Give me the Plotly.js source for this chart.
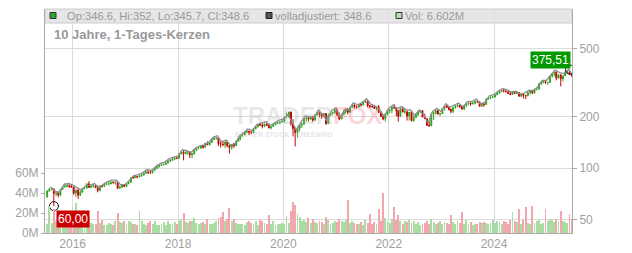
<!DOCTYPE html>
<html><head><meta charset="utf-8">
<script src="https://cdn.plot.ly/plotly-3.0.1.min.js"></script>
<style>html,body{margin:0;padding:0;background:#fff}#chart{width:632px;height:253px}</style>
</head><body><div id="chart"></div>
<script>
// ---- data: semi-monthly candles (1st half / 2nd half of each month), Jul 2015 .. Jun 2025 ----
const firstYear = 2015, firstMonth = 7, periods = 240;
const open = [
 68.0,73.5,75.3,75.6,71.3,71.5,69.7,75.2,77.6,78.1,79.0,78.5,
 77.5,71.5,74.5,69.5,72.4,76.0,76.5,80.9,77.2,78.3,79.0,77.0,74.2,78.8,78.0,80.4,80.9,81.0,82.7,82.0,82.5,76.5,77.3,79.9,
 78.0,81.3,82.7,88.0,87.9,89.3,88.9,89.7,91.2,93.8,95.2,93.9,93.8,97.1,99.6,102.0,103.5,104.8,105.2,107.4,110.0,111.1,112.6,114.5,
 114.0,120.9,124.2,121.5,122.9,123.9,119.6,121.1,126.9,130.2,130.7,134.5,132.5,139.6,136.7,141.3,146.9,149.7,150.1,138.5,137.8,137.4,141.7,135.1,
 131.9,137.5,135.0,143.3,148.1,155.8,156.2,161.8,164.4,161.5,161.3,169.5,173.5,180.3,178.0,175.5,180.8,177.5,172.0,174.9,178.9,183.9,184.5,185.5,
 187.9,198.2,199.0,212.2,181.8,170.5,161.1,170.5,178.7,180.3,195.2,195.6,193.2,199.6,190.4,204.5,212.0,204.7,200.0,207.8,181.7,203.0,210.4,211.1,
 218.7,203.5,193.2,205.5,212.4,221.4,211.7,226.8,233.6,228.9,227.3,234.7,233.8,243.5,246.4,231.0,229.0,227.5,222.8,228.3,211.8,200.0,193.8,206.5,
 216.7,217.4,226.2,224.5,216.1,200.3,221.8,212.7,213.1,201.4,212.2,188.9,196.9,204.5,212.1,216.5,198.7,194.2,177.7,176.3,207.2,209.7,217.0,206.7,
 207.8,222.8,230.2,226.2,219.9,214.6,225.5,230.9,232.7,228.0,221.0,231.8,237.5,239.6,237.7,239.6,245.7,243.5,230.0,236.4,235.1,252.7,256.7,258.9,
 260.4,267.6,273.3,281.1,282.6,281.1,279.1,272.1,268.6,279.5,272.5,275.0,262.5,271.0,265.7,264.5,276.4,282.6,275.0,288.1,289.9,309.7,315.0,320.0,
 316.0,316.1,341.8,356.2,362.7,335.3,350.5,331.6,345.5,362.6,365.2,351.8
];
const high = [
 74.2,76.9,77.5,76.0,72.3,73.3,75.4,78.4,81.7,80.5,80.6,79.9,
 77.6,75.0,75.2,73.8,76.5,77.5,81.4,83.9,79.3,80.8,80.5,79.3,79.1,79.8,80.9,81.5,83.0,83.5,83.8,83.9,83.0,79.0,80.5,80.4,
 81.8,83.3,88.5,89.3,90.2,89.9,91.4,92.5,94.1,95.3,96.5,96.8,97.5,100.6,102.5,103.8,105.2,106.2,107.7,111.7,112.2,114.3,115.4,115.7,
 121.5,126.9,126.9,126.4,126.4,125.4,122.7,128.2,131.2,133.3,136.1,136.3,140.0,143.3,142.4,147.6,150.6,151.6,151.6,142.5,144.5,142.8,144.8,136.2,
 138.3,140.3,143.6,148.3,156.2,158.5,162.5,166.8,165.0,166.3,170.8,176.5,181.2,184.1,182.6,181.4,187.0,182.4,175.6,180.9,184.3,185.7,186.6,189.8,
 198.5,210.4,213.4,214.2,193.0,172.6,175.0,180.3,183.0,196.0,202.8,200.0,200.2,201.1,206.9,214.2,217.4,209.3,209.8,209.6,207.6,212.1,213.8,220.4,
 219.5,210.6,206.5,219.3,224.8,223.4,228.1,236.9,235.8,231.6,236.5,237.8,244.6,252.7,247.4,234.0,235.8,233.9,229.1,233.6,212.9,205.3,207.2,219.5,
 222.0,229.2,235.9,227.0,218.5,225.3,226.4,221.0,217.3,212.6,217.7,203.1,208.5,214.4,217.5,217.3,207.7,196.5,188.5,208.2,213.6,217.6,218.3,210.2,
 224.3,232.0,234.3,227.8,222.7,226.2,231.0,235.6,234.3,233.6,232.5,238.3,240.9,244.7,244.5,246.7,250.1,244.3,238.6,240.9,255.6,257.1,261.3,263.3,
 269.5,279.2,285.8,286.1,290.9,284.6,281.2,280.2,281.1,282.4,280.8,278.1,272.8,274.0,266.3,277.1,283.4,286.0,290.7,294.1,314.2,316.6,321.6,321.4,
 318.3,344.6,359.3,366.5,367.0,350.5,352.0,347.2,366.1,367.9,375.5,356.9
];
const low = [
 67.2,72.8,74.3,60.0,68.6,67.5,68.6,74.5,77.0,77.5,76.5,76.6,
 69.8,67.9,66.1,69.0,72.0,75.3,75.8,76.9,76.4,77.0,76.3,72.2,73.3,77.2,77.9,79.8,79.4,80.6,81.6,80.0,75.2,75.5,76.8,77.8,
 77.9,80.4,82.3,86.4,87.5,87.1,88.2,89.3,90.7,92.5,92.6,93.2,93.4,96.8,99.3,100.6,102.9,103.8,104.9,106.4,108.5,110.6,111.2,113.4,
 113.9,120.5,111.0,120.2,119.8,114.5,114.2,120.3,125.7,128.8,130.1,129.9,131.6,136.3,135.6,141.0,145.7,146.8,134.6,131.8,134.1,131.1,132.5,121.6,
 127.9,131.5,134.7,142.7,145.3,152.3,155.5,160.3,155.5,157.8,159.5,168.8,173.3,176.7,170.6,173.3,176.3,170.4,168.3,173.5,178.5,180.3,180.2,185.1,
 184.6,196.8,198.8,176.6,153.5,133.9,150.6,163.6,171.5,180.1,186.5,187.6,190.4,186.0,189.5,203.0,197.8,194.0,198.9,179.2,180.8,201.7,203.9,207.0,
 202.6,190.1,193.0,204.5,208.3,205.8,211.0,225.4,222.5,222.5,225.3,228.6,232.6,240.0,226.2,223.5,226.1,221.5,217.5,209.0,199.5,190.1,186.7,202.9,
 208.3,208.8,222.0,200.9,186.7,199.6,211.3,206.5,189.5,189.4,187.5,186.4,196.2,201.5,209.6,198.2,193.6,175.9,174.6,176.8,190.8,205.0,205.2,200.8,
 206.7,216.3,224.5,216.9,208.8,208.7,222.4,226.6,224.5,219.6,218.5,226.9,232.8,231.3,234.4,235.4,240.8,227.7,227.8,227.9,233.7,251.2,252.6,257.1,
 257.9,266.4,272.1,277.4,276.5,277.6,271.1,266.5,267.7,271.5,271.3,262.0,260.4,254.8,252.7,262.0,268.5,270.0,271.8,283.8,285.6,305.8,312.4,310.0,
 304.9,315.8,338.6,343.8,325.0,333.5,299.9,320.4,344.1,355.2,350.2,340.8
];
const close = [
 73.5,75.3,75.6,71.3,71.5,69.7,75.2,77.6,78.1,79.0,78.5,77.5,
 71.5,74.5,69.5,72.4,76.0,76.5,80.9,77.2,78.3,79.0,77.0,74.2,78.8,78.0,80.4,80.9,81.0,82.7,82.0,82.5,76.5,77.3,79.9,78.0,
 81.3,82.7,88.0,87.9,89.3,88.9,89.7,91.2,93.8,95.2,93.9,93.8,97.1,99.6,102.0,103.5,104.8,105.2,107.4,110.0,111.1,112.6,114.5,114.0,
 120.9,124.2,121.5,122.9,123.9,119.6,121.1,126.9,130.2,130.7,134.5,132.5,139.6,136.7,141.3,146.9,149.7,150.1,138.5,137.8,137.4,141.7,135.1,131.9,
 137.5,135.0,143.3,148.1,155.8,156.2,161.8,164.4,161.5,161.3,169.5,173.5,180.3,178.0,175.5,180.8,177.5,172.0,174.9,178.9,183.9,184.5,185.5,187.9,
 198.2,199.0,212.2,181.8,170.5,161.1,170.5,178.7,180.3,195.2,195.6,193.2,199.6,190.4,204.5,212.0,204.7,200.0,207.8,181.7,203.0,210.4,211.1,218.7,
 203.5,193.2,205.5,212.4,221.4,211.7,226.8,233.6,228.9,227.3,234.7,233.8,243.5,246.4,231.0,229.0,227.5,222.8,228.3,211.8,200.0,193.8,206.5,216.7,
 217.4,226.2,224.5,216.1,200.3,221.8,212.7,213.1,201.4,212.2,188.9,196.9,204.5,212.1,216.5,198.7,194.2,177.7,176.3,207.2,209.7,217.0,206.7,207.8,
 222.8,230.2,226.2,219.9,214.6,225.5,230.9,232.7,228.0,221.0,231.8,237.5,239.6,237.7,239.6,245.7,243.5,230.0,236.4,235.1,252.7,256.7,258.9,260.4,
 267.6,273.3,281.1,282.6,281.1,279.1,272.1,268.6,279.5,272.5,275.0,262.5,271.0,265.7,264.5,276.4,282.6,275.0,288.1,289.9,309.7,315.0,320.0,316.0,
 316.1,341.8,356.2,362.7,335.3,350.5,331.6,345.5,362.6,365.2,351.8,348.6
];
// volume per half-month, millions
const volumeM = [
 9,27,10,24,12,12,10,14,11,9,15,11,
 14,30,15,11,10,9,11,16,10,9,9,22,10,13,8,8,10,9,8,12,20,11,10,12,
 9,12,11,9,9,8,22,12,9,8,10,12,9,12,8,8,9,11,8,12,9,9,11,9,
 12,14,20,11,10,12,12,15,10,9,10,11,9,14,9,9,10,12,15,16,21,12,14,25,
 12,14,10,9,9,9,8,11,12,10,9,12,8,13,12,10,9,18,9,12,8,9,9,10,
 9,17,10,22,31,28,19,16,12,13,11,15,10,14,11,10,12,11,9,16,13,9,10,12,
 11,14,12,11,13,33,10,12,10,9,9,11,8,13,10,19,9,11,9,24,12,40,15,11,
 10,14,26,13,18,12,9,12,11,13,10,12,9,11,8,9,10,12,9,14,11,9,10,12,
 9,11,10,9,18,11,9,12,10,21,9,13,9,11,8,9,9,11,10,11,10,9,10,13,
 10,12,11,9,12,11,9,13,21,12,11,24,9,13,26,10,9,27,10,12,13,9,10,24,
 12,14,13,11,14,12,22,12,11,10,19,14
];
// fully adjusted close, month ends Jul 2015 .. Jun 2025
const adjusted = [
 77.6,73.4,71.7,79.9,81.4,79.9,
 76.7,74.6,78.8,79.5,81.4,76.4,80.4,83.3,85.2,85.0,79.6,80.3,
 85.2,90.5,91.6,93.9,98.1,96.6,102.6,106.6,108.4,113.3,116.0,117.4,
 127.9,126.6,123.2,130.7,134.6,136.5,140.8,151.3,154.6,141.9,146.0,135.9,
 139.1,152.5,160.9,169.3,166.1,178.7,183.3,186.2,177.2,184.3,190.0,193.5,
 205.0,187.3,165.9,184.1,201.1,199.0,196.1,218.4,206.0,187.2,216.7,225.3,
 199.0,218.8,218.1,240.6,234.1,240.8,253.8,235.9,229.5,218.2,199.6,223.2,
 233.0,222.6,228.5,219.5,218.6,202.8,218.5,204.7,183.0,213.4,223.5,214.0,
 237.1,226.5,232.3,239.7,227.6,244.6,244.8,253.1,236.9,242.2,264.4,268.2,
 281.5,291.1,287.5,276.7,280.7,270.4,273.7,284.7,283.3,298.6,324.5,325.5,
 352.1,373.6,361.0,355.9,376.2,359.1
];
const extremeDates = ['2015-08-24','2025-06-11'];
const extremeValues = [60.00, 375.51];
const extremeLabels = ['60,00','375,51'];
const yearTicks = ['2016','2018','2020','2022','2024'];
const priceTicks = [50,100,200,500];
const volTicks = [0,20,40,60];
const headerOHLC = 'Op:346.6, Hi:352, Lo:345.7, Cl:348.6';
const headerAdj = 'volladjustiert: 348.6';
const headerVol = 'Vol: 6.602M';
const subtitle = '10 Jahre, 1-Tages-Kerzen';

// ---- dates ----
const pad = n => String(n).padStart(2,'0');
const dates = [];
for (let i = 0; i < periods; i++) {
  const m0 = firstMonth - 1 + Math.floor(i/2);
  const y = firstYear + Math.floor(m0/12), m = m0 % 12 + 1;
  dates.push(`${y}-${pad(m)}-${i%2===0?'08':'23'}`);
}
const monthEnds = [];
for (let i = 0; i < adjusted.length; i++) {
  const m0 = firstMonth - 1 + i;
  const y = firstYear + Math.floor(m0/12), m = m0 % 12 + 1;
  const last = (i === adjusted.length-1) ? 20 : new Date(y, m, 0).getDate();
  monthEnds.push(`${y}-${pad(m)}-${pad(last)}`);
}

// ---- geometry helpers (pixel -> paper) ----
const L = 45, R = 572, T = 9, B = 233;
const px = x => (x - L) / (R - L);
const py = y => (B - y) / (B - T);

const volColors = close.map((c,i) => c >= open[i] ? '#a8dca2' : '#f2a6ad');

const traces = [
  { type:'bar', x:dates, y:volumeM.map(v => v*1e6), yaxis:'y2',
    marker:{color:volColors, line:{width:0}}, hoverinfo:'skip' },
  { type:'scatter', mode:'lines', x:monthEnds, y:adjusted,
    line:{color:'#8c8c8c', width:1.3}, hoverinfo:'skip' },
  { type:'candlestick', x:dates, open:open, high:high, low:low, close:close,
    increasing:{line:{color:'#33a322', width:1}, fillcolor:'#33a322'},
    decreasing:{line:{color:'#c80000', width:1}, fillcolor:'#c80000'},
    whiskerwidth:0, hoverinfo:'skip' },
  { type:'scatter', mode:'markers', x:extremeDates, y:extremeValues,
    marker:{symbol:'circle-open', size:9, color:'#111', line:{width:1}}, hoverinfo:'skip' }
];

const fontFam = '"Liberation Sans", Arial, sans-serif';
const annotations = [
  // watermark
  { xref:'paper', yref:'paper', x:px(307), y:py(115.5), xanchor:'center', yanchor:'middle', showarrow:false,
    text:'<b><span style="color:rgba(175,175,175,0.28)">TRADER</span><span style="color:rgba(240,110,120,0.28)">FOX</span></b>',
    font:{family:fontFam, size:24} },
  { xref:'paper', yref:'paper', x:px(284), y:py(134), xanchor:'center', yanchor:'middle', showarrow:false,
    text:'<b>BETTER STOCK SCREENING</b>', font:{family:fontFam, size:7, color:'rgba(175,175,175,0.35)'} },
  // header
  { xref:'paper', yref:'paper', x:px(65), y:py(16), xanchor:'left', yanchor:'middle', showarrow:false,
    text:headerOHLC, font:{family:fontFam, size:11.2, color:'#999'} },
  { xref:'paper', yref:'paper', x:px(272.5), y:py(16), xanchor:'left', yanchor:'middle', showarrow:false,
    text:headerAdj, font:{family:fontFam, size:11.2, color:'#999'} },
  { xref:'paper', yref:'paper', x:px(402.5), y:py(16), xanchor:'left', yanchor:'middle', showarrow:false,
    text:headerVol, font:{family:fontFam, size:11.2, color:'#999'} },
  // subtitle
  { xref:'paper', yref:'paper', x:px(51.5), y:py(34), xanchor:'left', yanchor:'middle', showarrow:false,
    text:'<b>'+subtitle+'</b>', font:{family:fontFam, size:13, color:'#999'} },
  // extreme labels
  { x:extremeDates[1], y:Math.log10(extremeValues[1]), xref:'x', yref:'y', showarrow:false,
    xanchor:'right', yanchor:'bottom', xshift:1, yshift:1,
    text:extremeLabels[1], bgcolor:'#009900', borderpad:1, font:{family:fontFam, size:12, color:'#fff'} },
  { x:extremeDates[0], y:Math.log10(extremeValues[0]), xref:'x', yref:'y', showarrow:false,
    xanchor:'left', yanchor:'top', xshift:2, yshift:-4,
    text:extremeLabels[0], bgcolor:'#cc0000', borderpad:1, font:{family:fontFam, size:12, color:'#fff'} }
];

const shapes = [
  { type:'rect', xref:'paper', yref:'paper', x0:0, x1:1, y0:py(23), y1:1, layer:'below',
    fillcolor:'#e6e6e6', line:{color:'#cccccc', width:1} },
  { type:'rect', xref:'paper', yref:'paper', x0:px(50), x1:px(56), y0:py(18.5), y1:py(12.5), layer:'above',
    fillcolor:'#2fa52f', line:{color:'#333', width:1} },
  { type:'rect', xref:'paper', yref:'paper', x0:px(266), x1:px(272), y0:py(18.5), y1:py(12.5), layer:'above',
    fillcolor:'#555', line:{color:'#222', width:1} },
  { type:'rect', xref:'paper', yref:'paper', x0:px(396), x1:px(402), y0:py(18.5), y1:py(12.5), layer:'above',
    fillcolor:'#b3e0ae', line:{color:'#333', width:1} }
];

const layout = {
  width:632, height:253,
  margin:{l:L, r:632-R, t:T, b:253-B, pad:0},
  paper_bgcolor:'#fff', plot_bgcolor:'#fff',
  showlegend:false, bargap:0,
  font:{family:fontFam, size:12, color:'#a0a0a0'},
  xaxis:{ type:'date', range:['2015-06-23','2025-06-25'],
    tickvals:yearTicks.map(y => y+'-01-01'), ticktext:yearTicks,
    showgrid:true, gridcolor:'#dcdcdc', gridwidth:1, showline:true, linecolor:'#aaa', linewidth:1,
    ticks:'', rangeslider:{visible:false}, zeroline:false, fixedrange:true,
    tickfont:{family:fontFam, size:12, color:'#a0a0a0'} },
  yaxis:{ type:'log', side:'right', range:[1.6214, 2.9283],
    tickvals:priceTicks, ticktext:priceTicks.map(String),
    showgrid:true, gridcolor:'#dcdcdc', gridwidth:1, showline:true, linecolor:'#aaa', linewidth:1,
    ticks:'outside', ticklen:4, tickcolor:'#aaa', zeroline:false, fixedrange:true,
    tickfont:{family:fontFam, size:12, color:'#a0a0a0'} },
  yaxis2:{ overlaying:'y', side:'left', range:[0, 225e6],
    tickvals:volTicks.map(v => v*1e6), ticktext:volTicks.map(v => v+'M'),
    showgrid:false, showline:true, linecolor:'#aaa', linewidth:1,
    ticks:'outside', ticklen:3, tickcolor:'#aaa', zeroline:false, fixedrange:true,
    tickfont:{family:fontFam, size:12, color:'#a0a0a0'} },
  annotations:annotations, shapes:shapes
};

Plotly.newPlot('chart', traces, layout, {staticPlot:true, displayModeBar:false});
</script>
</body></html>
